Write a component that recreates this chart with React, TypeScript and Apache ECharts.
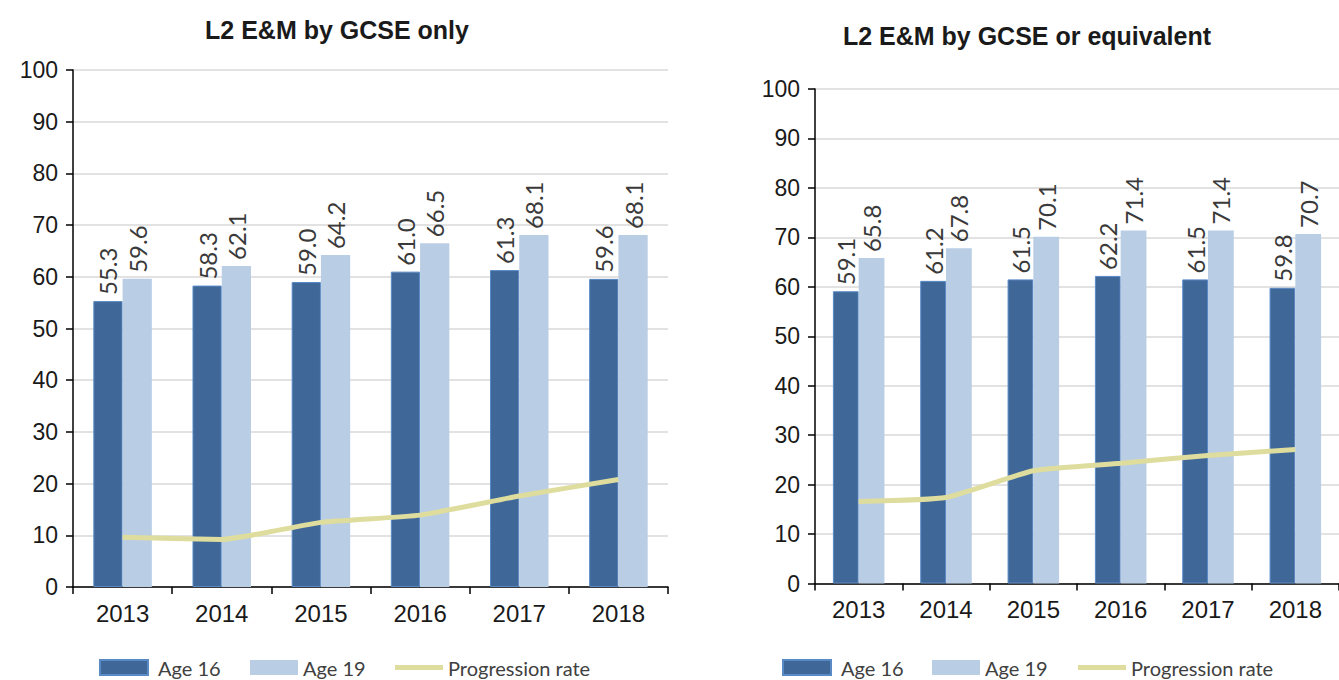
import React, { useEffect, useRef } from "react";
import * as echarts from "echarts";

const years = ["2013", "2014", "2015", "2016", "2017", "2018"];
const yTicks = [0, 10, 20, 30, 40, 50, 60, 70, 80, 90, 100];

const gcseAge16 = [55.3, 58.3, 59.0, 61.0, 61.3, 59.6];
const gcseAge19 = [59.6, 62.1, 64.2, 66.5, 68.1, 68.1];
const gcseProgression = [9.6, 9.2, 12.5, 13.9, 17.6, 20.8];

const equivAge16 = [59.1, 61.2, 61.5, 62.2, 61.5, 59.8];
const equivAge19 = [65.8, 67.8, 70.1, 71.4, 71.4, 70.7];
const equivProgression = [16.6, 17.4, 22.8, 24.3, 25.9, 27.1];

const titles = ["L2 E&M by GCSE only", "L2 E&M by GCSE or equivalent"];
const seriesNames = ["Age 16", "Age 19", "Progression rate"];

const C16 = "#3f6899";
const C16B = "#5a8ac6";
const C19 = "#b9cde5";
const CLINE = "#dedd9e";
const AXIS_FONT = "'Liberation Sans', Arial, sans-serif";
const LABEL_FONT = "Lato, 'Noto Sans', sans-serif";

export default function App() {
  const ref = useRef<HTMLDivElement>(null);
  useEffect(() => {
    if (!ref.current) return;
    const chart = echarts.init(ref.current, undefined, { renderer: "svg" });

    const grids = [
      { left: 73, top: 70, width: 595, height: 517 },
      { left: 815, top: 89, width: 531, height: 494.5 },
    ];

    const xAxes = grids.map((_, i) => ({
      type: "category",
      gridIndex: i,
      data: years,
      axisLine: { show: true, lineStyle: { color: "#000", width: 1.5 } },
      axisTick: { show: true, length: 7, lineStyle: { color: "#000", width: 1.5 } },
      axisLabel: {
        fontFamily: AXIS_FONT,
        fontSize: 24,
        color: "#1a1a1a",
        margin: 14,
      },
      splitLine: { show: false },
    }));

    const yAxes = grids.map((_, i) => ({
      type: "value",
      gridIndex: i,
      min: yTicks[0],
      max: yTicks[yTicks.length - 1],
      interval: 10,
      axisLine: { show: true, lineStyle: { color: "#000", width: 1.5 } },
      axisTick: { show: true, length: 7, lineStyle: { color: "#000", width: 1.5 } },
      axisLabel: {
        fontFamily: AXIS_FONT,
        fontSize: 23,
        color: "#1a1a1a",
        margin: 15,
      },
      splitLine: { show: true, lineStyle: { color: "#d9d9d9", width: 1.5 } },
    }));

    const barLabel = {
      show: true,
      position: "top",
      rotate: 90,
      align: "left",
      verticalAlign: "middle",
      distance: 6,
      fontFamily: LABEL_FONT,
      fontSize: 24,
      color: "#3a3a3a",
      formatter: (p: any) => Number(p.value).toFixed(1),
    };

    const datasets = [
      [gcseAge16, gcseAge19, gcseProgression],
      [equivAge16, equivAge19, equivProgression],
    ];

    const series: any[] = [];
    datasets.forEach((d, i) => {
      series.push({
        type: "bar",
        name: seriesNames[0],
        xAxisIndex: i,
        yAxisIndex: i,
        data: d[0],
        barGap: "0%",
        barCategoryGap: "41%",
        itemStyle: { color: C16, borderColor: C16B, borderWidth: 1 },
        label: barLabel,
      });
      series.push({
        type: "bar",
        name: seriesNames[1],
        xAxisIndex: i,
        yAxisIndex: i,
        data: d[1],
        barGap: "0%",
        barCategoryGap: "41%",
        itemStyle: { color: C19 },
        label: barLabel,
      });
      series.push({
        type: "line",
        name: seriesNames[2],
        xAxisIndex: i,
        yAxisIndex: i,
        data: d[2],
        symbol: "none",
        smooth: 0.15,
        z: 5,
        lineStyle: { color: CLINE, width: 5 },
        itemStyle: { color: CLINE },
      });
    });

    const legendText = {
      fontFamily: LABEL_FONT,
      fontSize: 20,
      color: "#404040",
    };
    const legendDefs = [
      // left chart
      { name: seriesNames[0], left: 99, cy: 669.5, h: 15, pad: 5 },
      { name: seriesNames[1], left: 250, cy: 669.5, h: 15, pad: 0 },
      { name: seriesNames[2], left: 395, cy: 669.5, h: 5, pad: 0 },
      // right chart
      { name: seriesNames[0], left: 782, cy: 669.5, h: 15, pad: 5 },
      { name: seriesNames[1], left: 932, cy: 669.5, h: 15, pad: 0 },
      { name: seriesNames[2], left: 1078, cy: 669.5, h: 5, pad: 0 },
    ];
    const legends = legendDefs.map((l) => ({
      data: [l.name],
      left: l.left,
      top: l.cy - 12,
      height: 24,
      padding: 0,
      itemWidth: 48,
      itemHeight: l.h,
      icon: "rect",
      selectedMode: false,
      textStyle: { ...legendText, padding: [0, 0, 0, l.pad] },
    }));

    chart.setOption({
      animation: false,
      backgroundColor: "#ffffff",
      grid: grids,
      xAxis: xAxes,
      yAxis: yAxes,
      legend: legends,
      series,
      graphic: [
        {
          type: "text",
          x: 337,
          y: 30,
          style: {
            text: titles[0],
            fontFamily: AXIS_FONT,
            fontWeight: "bold",
            fontSize: 25,
            fill: "#1a1a1a",
            textAlign: "center",
            textVerticalAlign: "middle",
          },
        },
        {
          type: "text",
          x: 1027,
          y: 36,
          style: {
            text: titles[1],
            fontFamily: AXIS_FONT,
            fontWeight: "bold",
            fontSize: 25,
            fill: "#1a1a1a",
            textAlign: "center",
            textVerticalAlign: "middle",
          },
        },
      ],
    });
    return () => chart.dispose();
  }, []);
  return (
    <div
      ref={ref}
      style={{ position: "fixed", left: 0, top: 0, width: 1339, height: 680, overflow: "hidden" }}
    />
  );
}
